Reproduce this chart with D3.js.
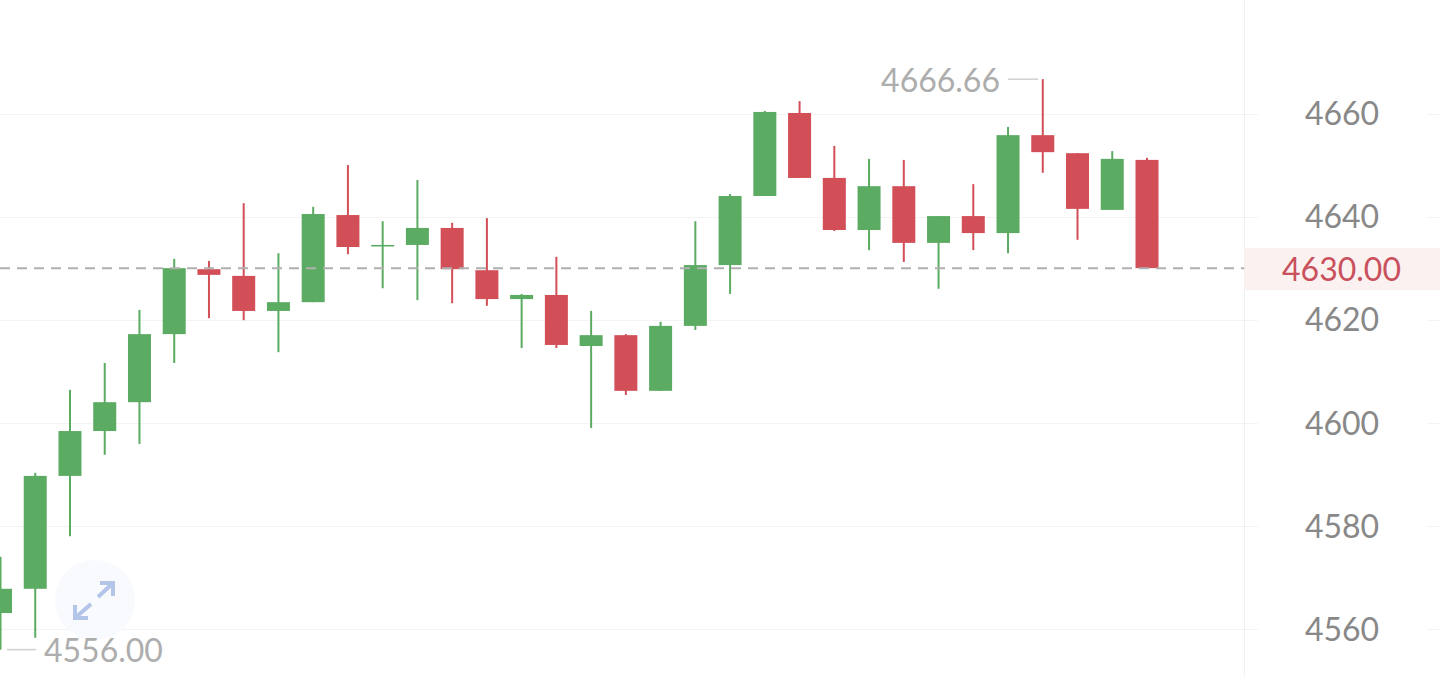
<!DOCTYPE html>
<html>
<head>
<meta charset="utf-8">
<script src="https://cdn.jsdelivr.net/npm/d3@7"></script>
<style>
  html, body { margin: 0; padding: 0; background: #fff; overflow: hidden; }
  text { font-family: Lato, "Noto Sans", sans-serif; }
</style>
</head>
<body>
<script>
// candles, left to right
var opens  = [4563.1,4567.8,4589.7,4598.4,4604.0,4617.2,4629.8,4628.5,4621.7,4623.4,4640.3,4634.2,4634.5,4637.8,4629.6,4624.0,4624.8,4614.9,4617.0,4606.2,4618.8,4630.6,4644.0,4660.1,4647.5,4637.4,4645.9,4634.9,4640.1,4636.8,4655.8,4652.3,4641.3,4651.0];
var closes = [4567.8,4589.7,4598.4,4604.0,4617.2,4630.0,4628.7,4621.7,4623.4,4640.5,4634.1,4634.5,4637.8,4629.8,4624.0,4624.8,4615.1,4617.0,4606.2,4618.8,4630.6,4644.0,4660.3,4647.5,4637.4,4645.9,4634.9,4640.1,4636.8,4655.8,4652.5,4641.5,4651.2,4630.0];
var highs  = [4574.0,4590.3,4606.4,4611.6,4621.9,4631.8,4631.4,4642.6,4632.9,4641.9,4650.0,4639.1,4647.1,4638.8,4639.7,4625.0,4632.2,4621.7,4617.2,4619.6,4639.1,4644.4,4660.5,4662.4,4653.7,4651.2,4651.0,4640.1,4646.3,4657.4,4666.66,4652.3,4652.7,4651.4];
var lows   = [4556.0,4558.3,4578.0,4593.8,4595.9,4611.6,4620.3,4619.9,4613.7,4623.4,4632.7,4626.1,4623.8,4623.2,4622.7,4614.5,4614.5,4599.0,4605.4,4606.2,4618.0,4625.0,4644.0,4647.5,4637.2,4633.5,4631.2,4626.0,4633.5,4632.9,4648.5,4635.5,4641.3,4630.0];

var priceTicks = [4560, 4580, 4600, 4620, 4640, 4660];
var lastPrice = 4630.00;
var maxPrice = 4666.66;
var minPrice = 4556.00;

var width = 1440, height = 676;
var axisX = 1244.5;
var green = "#5bab62", red = "#d24f58";

var svg = d3.select("body").append("svg")
    .attr("width", width)
    .attr("height", height)
    .style("display", "block");

var xScale = d3.scaleLinear().domain([0, opens.length - 1]).range([0.5, 1147]);
var yScale = d3.scaleLinear().domain([4560, 4660]).range([629, 113.5]);

// grid, broken where the price labels sit
svg.append("g").selectAll("line").data(priceTicks).enter().append("line")
    .attr("x1", 0).attr("x2", 1258)
    .attr("y1", function(d){ return Math.round(yScale(d)) + 0.5; })
    .attr("y2", function(d){ return Math.round(yScale(d)) + 0.5; })
    .attr("stroke", "#f3f3f3");
svg.append("g").selectAll("line").data(priceTicks).enter().append("line")
    .attr("x1", 1427).attr("x2", width)
    .attr("y1", function(d){ return Math.round(yScale(d)) + 0.5; })
    .attr("y2", function(d){ return Math.round(yScale(d)) + 0.5; })
    .attr("stroke", "#f3f3f3");

svg.append("line")
    .attr("x1", axisX).attr("x2", axisX)
    .attr("y1", 0).attr("y2", height)
    .attr("stroke", "#f1f1f1");

// fullscreen button
var btn = svg.append("g").attr("transform", "translate(95,600)");
btn.append("circle").attr("r", 40).attr("fill", "#f9fafe");
btn.append("path")
    .attr("d", "M3,-3 L18,-17 M5,-17 L18,-17 L18,-4 M-4,4 L-20,18 M-20,5 L-20,18 L-7,18")
    .attr("fill", "none")
    .attr("stroke", "#b3c5e9")
    .attr("stroke-width", 4);

var candles = svg.append("g").selectAll("g").data(opens).enter().append("g")
    .attr("fill", function(d, i){ return closes[i] >= opens[i] ? green : red; });

candles.append("rect")
    .attr("x", function(d, i){ return xScale(i) - 1; })
    .attr("width", 2)
    .attr("y", function(d, i){ return yScale(highs[i]); })
    .attr("height", function(d, i){ return yScale(lows[i]) - yScale(highs[i]); });

candles.append("rect")
    .attr("x", function(d, i){ return xScale(i) - 11.5; })
    .attr("width", 23)
    .attr("y", function(d, i){ return yScale(Math.max(opens[i], closes[i])); })
    .attr("height", function(d, i){ return Math.max(1.5, Math.abs(yScale(opens[i]) - yScale(closes[i]))); });

// last price line and tag
svg.append("line")
    .attr("x1", 0).attr("x2", axisX)
    .attr("y1", yScale(lastPrice)).attr("y2", yScale(lastPrice))
    .attr("stroke", "#b0b0b0")
    .attr("stroke-width", 2)
    .attr("stroke-dasharray", "10,7");

svg.append("rect")
    .attr("x", axisX).attr("y", 248)
    .attr("width", width - axisX).attr("height", 42)
    .attr("fill", "#fbf1f0");

var yAxis = d3.axisRight(yScale).tickValues(priceTicks).tickSize(0).tickFormat(d3.format("d"));
var axisG = svg.append("g").attr("transform", "translate(" + axisX + ",1)").call(yAxis);
axisG.select(".domain").remove();
axisG.selectAll("text")
    .attr("x", 97.5)
    .attr("text-anchor", "middle")
    .attr("font-size", 32)
    .attr("fill", "#888888")
    .style("font-family", "Lato, sans-serif");

svg.append("text")
    .attr("x", 1341.5).attr("y", yScale(lastPrice) + 1)
    .attr("dy", "0.36em")
    .attr("text-anchor", "middle")
    .attr("font-size", 32)
    .attr("fill", "#c9505c")
    .text(lastPrice.toFixed(2));

// high and low markers
svg.append("line")
    .attr("x1", 1008).attr("x2", 1038)
    .attr("y1", yScale(maxPrice)).attr("y2", yScale(maxPrice))
    .attr("stroke", "#d0d0d0").attr("stroke-width", 1.5);
svg.append("text")
    .attr("x", 1000).attr("y", yScale(maxPrice) + 1)
    .attr("dy", "0.36em")
    .attr("text-anchor", "end")
    .attr("font-size", 32)
    .attr("fill", "#adadad")
    .text(maxPrice.toFixed(2));

svg.append("line")
    .attr("x1", 7).attr("x2", 36)
    .attr("y1", yScale(minPrice)).attr("y2", yScale(minPrice))
    .attr("stroke", "#d0d0d0").attr("stroke-width", 1.5);
svg.append("text")
    .attr("x", 44).attr("y", yScale(minPrice) + 1)
    .attr("dy", "0.36em")
    .attr("text-anchor", "start")
    .attr("font-size", 32)
    .attr("fill", "#adadad")
    .text(minPrice.toFixed(2));
</script>
</body>
</html>
